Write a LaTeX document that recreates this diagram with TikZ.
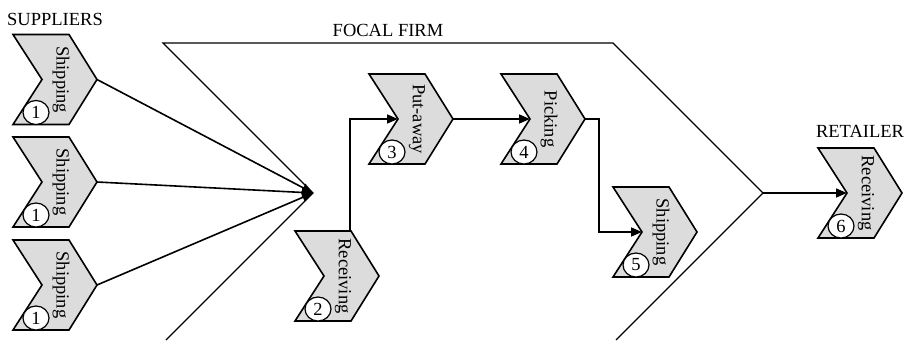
\documentclass[tikz,border=0pt]{standalone}
\usepackage{fontspec}
\setmainfont{Liberation Serif}
\usetikzlibrary{arrows.meta,shapes.geometric}
\definecolor{chevfill}{RGB}{220,220,220}
\tikzset{
  chevbox/.style={draw=black,fill=chevfill,line width=1.6pt,line join=miter},
  chevtext/.style={rotate=-90,inner sep=0pt,font=\fontsize{18.5}{20}\selectfont},
  numcirc/.style={ellipse,draw=black,fill=white,line width=1.2pt,minimum width=26pt,minimum height=24pt,inner sep=0pt,font=\fontsize{18.5}{20}\selectfont},
  link/.style={line width=1.6pt,-{Triangle[length=11pt,width=9pt]}},
  firm/.style={line width=1.3pt},
  lbl/.style={inner sep=0pt,font=\fontsize{18.5}{20}\selectfont}
}
\newcommand\chev[5]{%
  \draw[chevbox] (#2,#3) -- (#2+56,#3) -- (#2+84,#3+45) -- (#2+56,#3+90) -- (#2,#3+90) -- (#2+29,#3+45) -- cycle;
  \coordinate (#1-tip) at (#2+84,#3+45);
  \coordinate (#1-notch) at (#2+29,#3+45);
  \coordinate (#1-tr) at (#2+55,#3);
  \node[chevtext] (#1-t) at (#2+48,#3+45) {#4};
  \node[numcirc] (#1-n) at (#2+23,#3+78) {#5};
}
\begin{document}
\begin{tikzpicture}[x=1pt,y=-1pt]
\useasboundingbox (0,0) rectangle (907,340);
% focal firm outline
\coordinate (ff-tl) at (163,43);
\coordinate (ff-tr) at (613,43);
\coordinate (ff-tip) at (763,193);
\coordinate (ff-br) at (616,340);
\coordinate (ff-notch) at (313,193);
\coordinate (ff-bl) at (166,340);
\draw[firm] (ff-bl) -- (ff-notch) -- (ff-tl) -- (ff-tr) -- (ff-tip) -- (ff-br);
% labels
\node[lbl,anchor=base west] (sup) at (7,25) {SUPPLIERS};
\node[lbl,anchor=base] (focal) at (388,36) {FOCAL FIRM};
\node[lbl,anchor=base] (ret) at (860,137) {RETAILER};
% chevrons
\chev{s1}{13}{34.5}{Shipping}{1}
\chev{s2}{13}{137}{Shipping}{1}
\chev{s3}{13}{240}{Shipping}{1}
\chev{r2}{295}{231}{Receiving}{2}
\chev{p3}{369}{74}{Put-away}{3}
\chev{p4}{501}{74}{Picking}{4}
\chev{s5}{613}{187}{Shipping}{5}
\chev{r6}{818}{148}{Receiving}{6}
% connectors
\draw[link] (s1-tip) -- (ff-notch);
\draw[link] (s2-tip) -- (ff-notch);
\draw[link] (s3-tip) -- (ff-notch);
\draw[link] (r2-tr) |- (p3-notch);
\draw[link] (p3-tip) -- (p4-notch);
\draw[link] (p4-tip) -- ++(14,0) |- (s5-notch);
\draw[link] (ff-tip) -- (r6-notch);
\end{tikzpicture}
\end{document}
